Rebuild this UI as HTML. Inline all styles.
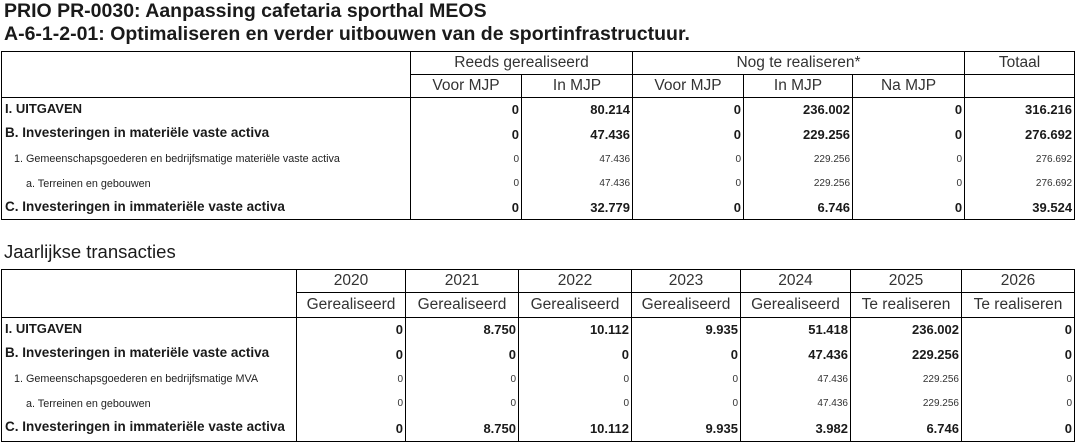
<!DOCTYPE html>
<html><head><meta charset="utf-8">
<style>
body{margin:0;width:1077px;height:444px;background:#fff;font-family:"Liberation Sans",Arial,sans-serif;color:#1a1a1a;position:relative;overflow:hidden}
.t{position:absolute;left:4px;font-size:17px;white-space:nowrap}
table{position:absolute;left:1px;border-collapse:collapse;table-layout:fixed;width:1073px}
td{border:1px solid #000;padding:0 2px;white-space:nowrap;overflow:hidden;box-sizing:border-box}
.h{font-size:15.5px;text-align:center;color:#333}
.n{text-align:right;font-size:13px;font-weight:bold}
.s{text-align:right;font-size:10px;color:#333}
.lb{font-size:13px;font-weight:bold;padding-left:3px}
.ls{font-size:10.8px;color:#222}
.data td{border-top:none;border-bottom:none}
.data td:first-child{border-right:1px solid #000}
</style></head><body>
<div class="t" style="top:0px;font-weight:bold;font-size:19.5px">PRIO PR-0030: Aanpassing cafetaria sporthal MEOS</div>
<div class="t" style="top:23px;font-weight:bold;font-size:19.5px">A-6-1-2-01: Optimaliseren en verder uitbouwen van de sportinfrastructuur.</div>
<table id="t1" style="top:51px">
<colgroup><col style="width:409px"><col style="width:111px"><col style="width:111px"><col style="width:111px"><col style="width:109px"><col style="width:112px"><col style="width:110px"></colgroup>
<tr style="height:23px"><td rowspan="2"></td><td class="h" colspan="2">Reeds gerealiseerd</td><td class="h" colspan="3">Nog te realiseren*</td><td class="h">Totaal</td></tr>
<tr style="height:23px"><td class="h">Voor MJP</td><td class="h">In MJP</td><td class="h">Voor MJP</td><td class="h">In MJP</td><td class="h">Na MJP</td><td class="h"></td></tr>
</table>
<div class="t" style="top:241px;font-size:18.5px">Jaarlijkse transacties</div>
<table id="t2" style="top:269px">
<colgroup><col style="width:295px"><col style="width:109px"><col style="width:113px"><col style="width:113px"><col style="width:109px"><col style="width:110px"><col style="width:111px"><col style="width:113px"></colgroup>
<tr style="height:23px"><td rowspan="2"></td><td class="h">2020</td><td class="h">2021</td><td class="h">2022</td><td class="h">2023</td><td class="h">2024</td><td class="h">2025</td><td class="h">2026</td></tr>
<tr style="height:25px"><td class="h">Gerealiseerd</td><td class="h">Gerealiseerd</td><td class="h">Gerealiseerd</td><td class="h">Gerealiseerd</td><td class="h">Gerealiseerd</td><td class="h">Te realiseren</td><td class="h">Te realiseren</td></tr>
</table>
<script>
const labels1=["I. UITGAVEN","B. Investeringen in materiële vaste activa","1. Gemeenschapsgoederen en bedrijfsmatige materiële vaste activa","a. Terreinen en gebouwen","C. Investeringen in immateriële vaste activa"];
const labels2=["I. UITGAVEN","B. Investeringen in materiële vaste activa","1. Gemeenschapsgoederen en bedrijfsmatige MVA","a. Terreinen en gebouwen","C. Investeringen in immateriële vaste activa"];
const rowKind=["b","b","s1","s2","b"];
const vals1=[["0","80.214","0","236.002","0","316.216"],["0","47.436","0","229.256","0","276.692"],["0","47.436","0","229.256","0","276.692"],["0","47.436","0","229.256","0","276.692"],["0","32.779","0","6.746","0","39.524"]];
const vals2=[["0","8.750","10.112","9.935","51.418","236.002","0"],["0","0","0","0","47.436","229.256","0"],["0","0","0","0","47.436","229.256","0"],["0","0","0","0","47.436","229.256","0"],["0","8.750","10.112","9.935","3.982","6.746","0"]];
function fill(id,labels,vals,heights){
  const t=document.getElementById(id);
  labels.forEach((lab,i)=>{
    const tr=document.createElement('tr');
    tr.className='data';
    tr.style.height=heights[i]+'px';
    
    
    const td=document.createElement('td');
    const k=rowKind[i];
    td.className=k==='b'?'lb':'ls';
    if(k==='s1')td.style.paddingLeft='12px';
    if(k==='s2')td.style.paddingLeft='24px';
    if(k==='b'&&i!==0)td.style.fontSize='13.5px';
    td.style.verticalAlign=k==='b'?'top':'middle';
    if(k==='b')td.style.paddingTop='3px';
    td.textContent=lab;
    
    
    tr.appendChild(td);
    vals[i].forEach(v=>{
      const c=document.createElement('td');
      c.className=k==='b'?'n':'s';
      c.textContent=v;
      
      
      tr.appendChild(c);
    });
    if(i===labels.length-1)Array.from(tr.children).forEach(c=>c.style.borderBottom='1px solid #000');
    t.appendChild(tr);
  });
}
fill('t1',labels1,vals1,[24,25,25,24,24]);
fill('t2',labels2,vals2,[24,25,25,24,26]);
</script>
</body></html>
